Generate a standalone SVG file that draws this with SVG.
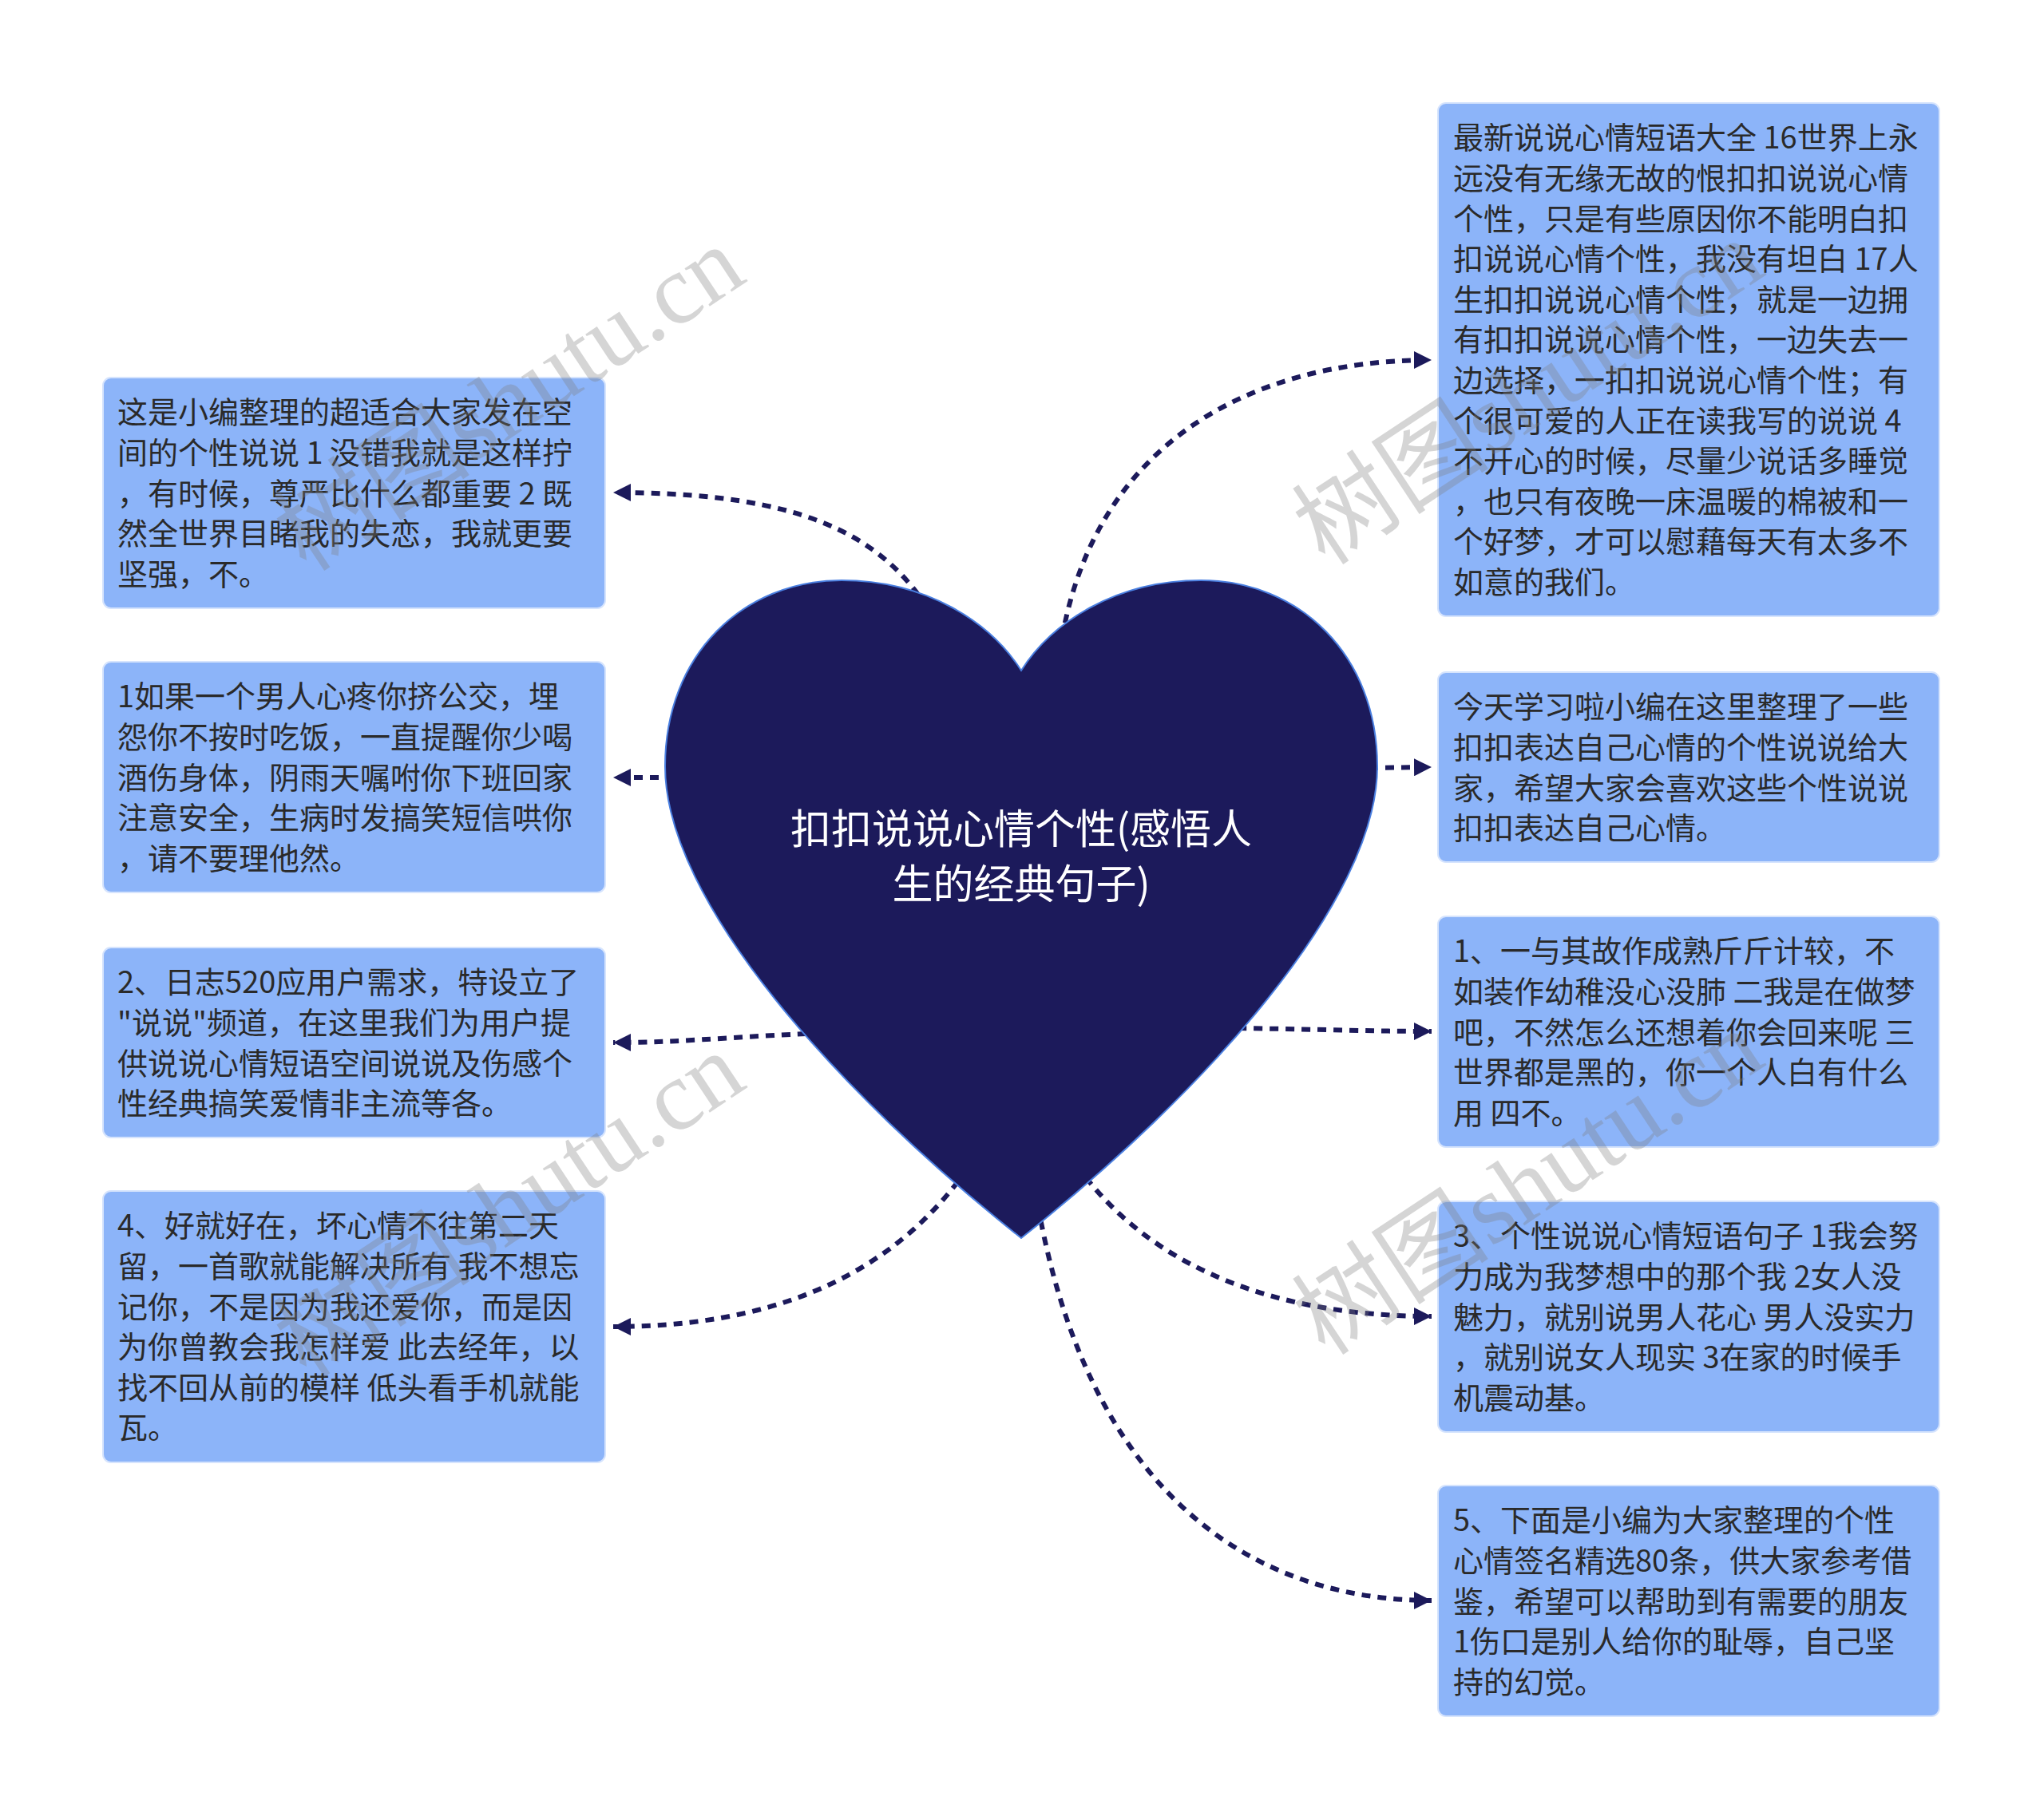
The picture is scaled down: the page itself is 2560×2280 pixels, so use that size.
<svg xmlns="http://www.w3.org/2000/svg" width="2560" height="2280" viewBox="0 0 2560 2280">
<defs>
<style>
.box{fill:#8cb4f9;stroke:#d6e4fd;stroke-width:2}
.t{font-family:"Noto Sans CJK SC","Noto Sans",sans-serif;font-size:38px;fill:#2a2a2a}
.c{fill:none;stroke:#1c1a5b;stroke-width:6;stroke-dasharray:11 9;marker-end:url(#arr)}
.wm{font-family:"Liberation Serif","Noto Sans CJK SC",serif;font-size:124px;fill:#7f7f7f;opacity:0.32}
</style>
<marker id="arr" markerUnits="userSpaceOnUse" markerWidth="22" markerHeight="22" refX="20" refY="10" orient="auto" viewBox="0 0 20 20">
<path d="M0,0 L20,10 L0,20 Z" fill="#1c1a5b"/>
</marker>
</defs>
<rect width="2560" height="2280" fill="#ffffff"/>
<g id="connectors">
<path class="c" d="M 1330 800 C 1372 560, 1560 451, 1793 451"/>
<path class="c" d="M 1715 962 L 1793 961"/>
<path class="c" d="M 1550 1288 C 1680 1290, 1720 1292, 1793 1292"/>
<path class="c" d="M 1360 1475 C 1450 1590, 1600 1649, 1793 1649"/>
<path class="c" d="M 1300 1510 C 1360 1850, 1550 2005, 1793 2005"/>
<path class="c" d="M 1150 745 C 1080 650, 960 617, 768 617"/>
<path class="c" d="M 845 974 L 768 974"/>
<path class="c" d="M 1010 1295 C 900 1300, 850 1306, 768 1306"/>
<path class="c" d="M 1200 1480 C 1100 1610, 950 1662, 768 1662"/>
</g>
<g id="center">
<path d="M 1279 840 C 1241 780, 1161 727, 1054 727 C 931 727, 833 820, 833 960 C 833 1130, 1051 1370, 1279 1551 C 1507 1370, 1725 1130, 1725 960 C 1725 820, 1627 727, 1504 727 C 1397 727, 1317 780, 1279 840 Z" fill="#1c1a5b" stroke="#4a7fe0" stroke-width="2"/>
<text text-anchor="middle" font-family="Noto Sans CJK SC, Noto Sans, sans-serif" font-size="51" fill="#ffffff"><tspan x="1279" y="1057">扣扣说说心情个性(感悟人</tspan><tspan x="1279" y="1126">生的经典句子)</tspan></text>
</g>
<g id="L1">
<rect class="box" x="129" y="473" width="629" height="289" rx="10"/>
<text class="t" y="530.3"><tspan x="147">这是小编整理的超适合大家发在空</tspan><tspan x="147" dy="50.6">间的个性说说 1 没错我就是这样拧</tspan><tspan x="147" dy="50.6">，有时候，尊严比什么都重要 2 既</tspan><tspan x="147" dy="50.6">然全世界目睹我的失恋，我就更要</tspan><tspan x="147" dy="50.6">坚强，不。</tspan></text>
</g>
<g id="L2">
<rect class="box" x="129" y="829" width="629" height="289" rx="10"/>
<text class="t" y="886.3"><tspan x="147">1如果一个男人心疼你挤公交，埋</tspan><tspan x="147" dy="50.6">怨你不按时吃饭，一直提醒你少喝</tspan><tspan x="147" dy="50.6">酒伤身体，阴雨天嘱咐你下班回家</tspan><tspan x="147" dy="50.6">注意安全，生病时发搞笑短信哄你</tspan><tspan x="147" dy="50.6">，请不要理他然。</tspan></text>
</g>
<g id="L3">
<rect class="box" x="129" y="1187" width="629" height="238" rx="10"/>
<text class="t" y="1244.3"><tspan x="147">2、日志520应用户需求，特设立了</tspan><tspan x="147" dy="50.6">"说说"频道，在这里我们为用户提</tspan><tspan x="147" dy="50.6">供说说心情短语空间说说及伤感个</tspan><tspan x="147" dy="50.6">性经典搞笑爱情非主流等各。</tspan></text>
</g>
<g id="L4">
<rect class="box" x="129" y="1492" width="629" height="340" rx="10"/>
<text class="t" y="1549.3"><tspan x="147">4、好就好在，坏心情不往第二天</tspan><tspan x="147" dy="50.6">留，一首歌就能解决所有 我不想忘</tspan><tspan x="147" dy="50.6">记你，不是因为我还爱你，而是因</tspan><tspan x="147" dy="50.6">为你曾教会我怎样爱 此去经年，以</tspan><tspan x="147" dy="50.6">找不回从前的模样 低头看手机就能</tspan><tspan x="147" dy="50.6">瓦。</tspan></text>
</g>
<g id="R1">
<rect class="box" x="1801" y="129" width="628" height="643" rx="10"/>
<text class="t" y="186.3"><tspan x="1820">最新说说心情短语大全 16世界上永</tspan><tspan x="1820" dy="50.6">远没有无缘无故的恨扣扣说说心情</tspan><tspan x="1820" dy="50.6">个性，只是有些原因你不能明白扣</tspan><tspan x="1820" dy="50.6">扣说说心情个性，我没有坦白 17人</tspan><tspan x="1820" dy="50.6">生扣扣说说心情个性，就是一边拥</tspan><tspan x="1820" dy="50.6">有扣扣说说心情个性，一边失去一</tspan><tspan x="1820" dy="50.6">边选择，一扣扣说说心情个性；有</tspan><tspan x="1820" dy="50.6">个很可爱的人正在读我写的说说 4</tspan><tspan x="1820" dy="50.6">不开心的时候，尽量少说话多睡觉</tspan><tspan x="1820" dy="50.6">，也只有夜晚一床温暖的棉被和一</tspan><tspan x="1820" dy="50.6">个好梦，才可以慰藉每天有太多不</tspan><tspan x="1820" dy="50.6">如意的我们。</tspan></text>
</g>
<g id="R2">
<rect class="box" x="1801" y="842" width="628" height="238" rx="10"/>
<text class="t" y="899.3"><tspan x="1820">今天学习啦小编在这里整理了一些</tspan><tspan x="1820" dy="50.6">扣扣表达自己心情的个性说说给大</tspan><tspan x="1820" dy="50.6">家，希望大家会喜欢这些个性说说</tspan><tspan x="1820" dy="50.6">扣扣表达自己心情。</tspan></text>
</g>
<g id="R3">
<rect class="box" x="1801" y="1148" width="628" height="289" rx="10"/>
<text class="t" y="1205.3"><tspan x="1820">1、一与其故作成熟斤斤计较，不</tspan><tspan x="1820" dy="50.6">如装作幼稚没心没肺 二我是在做梦</tspan><tspan x="1820" dy="50.6">吧，不然怎么还想着你会回来呢 三</tspan><tspan x="1820" dy="50.6">世界都是黑的，你一个人白有什么</tspan><tspan x="1820" dy="50.6">用 四不。</tspan></text>
</g>
<g id="R4">
<rect class="box" x="1801" y="1505" width="628" height="289" rx="10"/>
<text class="t" y="1562.3"><tspan x="1820">3、个性说说心情短语句子 1我会努</tspan><tspan x="1820" dy="50.6">力成为我梦想中的那个我 2女人没</tspan><tspan x="1820" dy="50.6">魅力，就别说男人花心 男人没实力</tspan><tspan x="1820" dy="50.6">，就别说女人现实 3在家的时候手</tspan><tspan x="1820" dy="50.6">机震动基。</tspan></text>
</g>
<g id="R5">
<rect class="box" x="1801" y="1861" width="628" height="289" rx="10"/>
<text class="t" y="1918.3"><tspan x="1820">5、下面是小编为大家整理的个性</tspan><tspan x="1820" dy="50.6">心情签名精选80条，供大家参考借</tspan><tspan x="1820" dy="50.6">鉴，希望可以帮助到有需要的朋友</tspan><tspan x="1820" dy="50.6">1伤口是别人给你的耻辱，自己坚</tspan><tspan x="1820" dy="50.6">持的幻觉。</tspan></text>
</g>
<g id="watermarks">
<text class="wm" transform="translate(384 718) rotate(-33.5)">树图shutu.cn</text>
<text class="wm" transform="translate(1660 710) rotate(-33.5)">树图shutu.cn</text>
<text class="wm" transform="translate(384 1728) rotate(-33.5)">树图shutu.cn</text>
<text class="wm" transform="translate(1660 1700) rotate(-33.5)">树图shutu.cn</text>
</g>
</svg>
